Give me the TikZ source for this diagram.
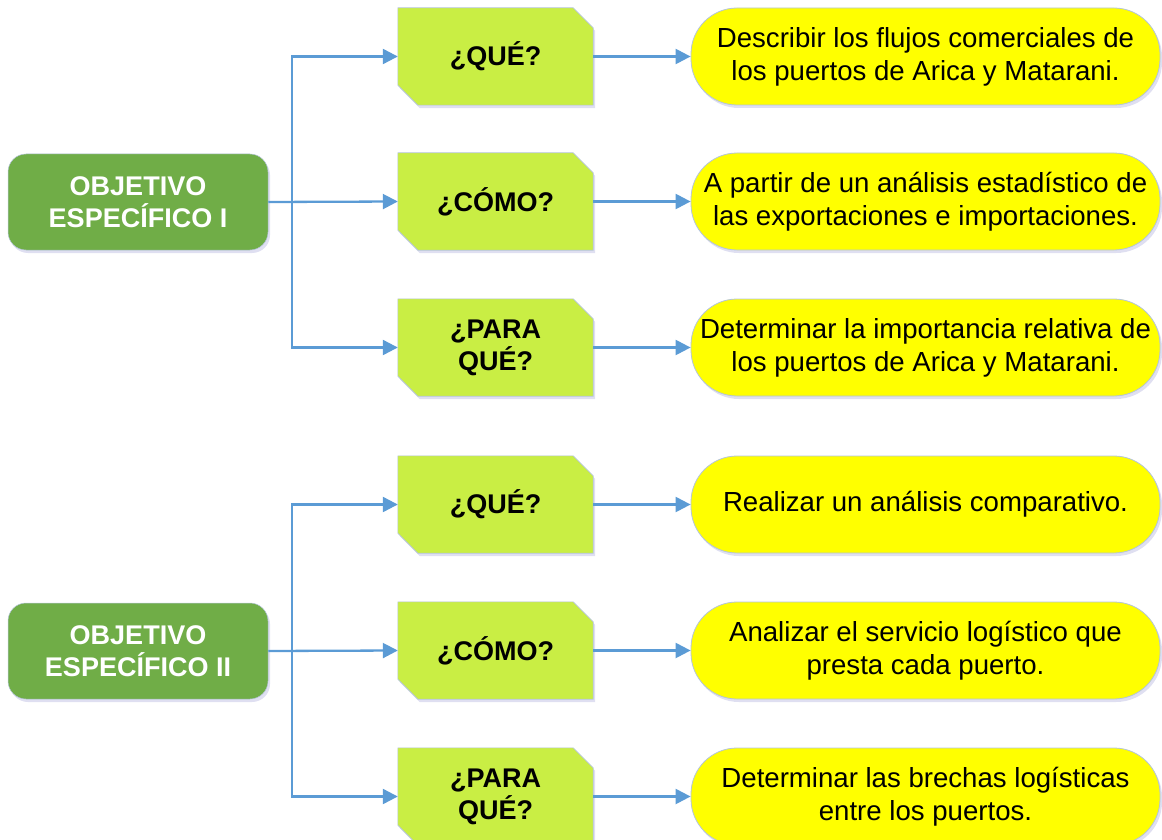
\documentclass[tikz,border=0pt]{standalone}
\usepackage{fontspec}
\setmainfont{Liberation Sans}
\usetikzlibrary{arrows.meta,shadows,backgrounds}
\definecolor{objgreen}{HTML}{70AD47}
\definecolor{qgreen}{HTML}{C9EE44}
\definecolor{ansyellow}{HTML}{FFFF00}
\definecolor{lineblue}{HTML}{5B9BD5}
\definecolor{edgegray}{HTML}{B4C4DA}
\newcommand\qshape[1]{%
  \filldraw[qshapestyle] (#1.north west) -- ([xshift=-20pt]#1.north east) -- ([yshift=-20pt]#1.north east)
   -- (#1.south east) -- ([xshift=20pt]#1.south west) -- ([yshift=20pt]#1.south west) -- cycle;}
\begin{document}
\begin{tikzpicture}[x=1pt,y=-1pt,
  softshadow/.style={drop shadow={shadow xshift=2pt,shadow yshift=-3pt,opacity=0.18,fill=blue!40!gray}},
  objbox/.style={fill=objgreen,draw=edgegray,line width=0.5pt,rounded corners=18pt,softshadow,
    minimum width=260pt,minimum height=96pt,inner sep=0pt,align=center,text=white,
    font=\fontsize{27}{32}\selectfont\bfseries},
  qbox/.style={minimum width=195pt,minimum height=97pt,inner sep=0pt,align=center,
    font=\fontsize{27}{32}\selectfont\bfseries},
  qshapestyle/.style={fill=qgreen,draw=edgegray,line width=0.6pt,softshadow},
  ansbox/.style={fill=ansyellow,draw=edgegray,line width=0.8pt,rounded corners=46pt,softshadow,
    minimum width=469pt,minimum height=97pt,inner sep=0pt,align=center,
    font=\fontsize{27.6}{33}\selectfont},
  conn/.style={draw=lineblue,line width=2.3pt},
  arr/.style={conn,-{Triangle[length=15pt,width=15pt]}}
]
\useasboundingbox (0,0) rectangle (1162,840);

% objective boxes
\node[objbox] (o1) at (138,202) {OBJETIVO\\ESPECÍFICO I};
\node[objbox] (o2) at (138,651) {OBJETIVO\\ESPECÍFICO II};

% question boxes
\node[qbox] (q1) at (495.5,56.5) {¿QUÉ?};
\node[qbox] (q2) at (495.5,201.5) {¿CÓMO?};
\node[qbox] (q3) at (495.5,347.5) {¿PARA\\QUÉ?};
\node[qbox] (q4) at (495.5,504.5) {¿QUÉ?};
\node[qbox] (q5) at (495.5,650.5) {¿CÓMO?};
\node[qbox] (q6) at (495.5,796.5) {¿PARA\\QUÉ?};
\begin{scope}[on background layer]
  \qshape{q1}\qshape{q2}\qshape{q3}\qshape{q4}\qshape{q5}\qshape{q6}
\end{scope}

% answer boxes
\node[ansbox] (a1) at (925.5,56.5) {Describir los flujos comerciales de\\los puertos de Arica y Matarani.};
\node[ansbox] (a2) at (925.5,201.5) {A partir de un análisis estadístico de\\las exportaciones e importaciones.};
\node[ansbox] (a3) at (925.5,347.5) {Determinar la importancia relativa de\\los puertos de Arica y Matarani.};
\node[ansbox] (a4) at (925.5,504.5) {Realizar un análisis comparativo.};
\node[ansbox] (a5) at (925.5,650.5) {Analizar el servicio logístico que\\presta cada puerto.};
\node[ansbox] (a6) at (925.5,796.5) {Determinar las brechas logísticas\\entre los puertos.};

% trunk coordinates
\coordinate (t1) at (292,0);
\coordinate (t2) at (292,0);

% connectors group I
\draw[arr] (o1.east) -- (q2.west);
\draw[arr] (o1.east -| t1) |- (q1.west);
\draw[arr] (o1.east -| t1) |- (q3.west);
% connectors group II
\draw[arr] (o2.east) -- (q5.west);
\draw[arr] (o2.east -| t2) |- (q4.west);
\draw[arr] (o2.east -| t2) |- (q6.west);

% question to answer
\draw[arr] (q1.east) -- (a1.west);
\draw[arr] (q2.east) -- (a2.west);
\draw[arr] (q3.east) -- (a3.west);
\draw[arr] (q4.east) -- (a4.west);
\draw[arr] (q5.east) -- (a5.west);
\draw[arr] (q6.east) -- (a6.west);
\end{tikzpicture}
\end{document}
